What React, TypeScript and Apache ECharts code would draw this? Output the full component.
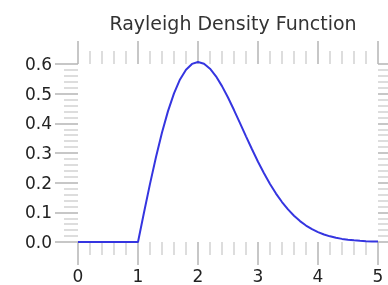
import React, { useEffect, useRef } from "react";
import * as echarts from "echarts";

const title = "Rayleigh Density Function";
const xs = [
  0, 0.5, 1, 1.1, 1.2, 1.3, 1.4, 1.5, 1.6, 1.7, 1.8, 1.9, 2, 2.1, 2.2, 2.3, 2.4, 2.5,
  2.6, 2.7, 2.8, 2.9, 3, 3.1, 3.2, 3.3, 3.4, 3.5, 3.6, 3.7, 3.8, 3.9, 4, 4.1, 4.2,
  4.3, 4.4, 4.5, 4.6, 4.7, 4.8, 4.9, 5,
];
const ys = [
  0, 0, 0, 0.0995, 0.196, 0.2868, 0.3692, 0.4412, 0.5012, 0.5479, 0.5809, 0.6003,
  0.6065, 0.6007, 0.5841, 0.5585, 0.5254, 0.487, 0.4448, 0.4007, 0.3562, 0.3125,
  0.2707, 0.2316, 0.1956, 0.1633, 0.1347, 0.1098, 0.0885, 0.0705, 0.0555, 0.0433,
  0.0333, 0.0254, 0.0191, 0.0143, 0.0105, 0.0077, 0.0055, 0.0039, 0.0028, 0.0019,
  0.0013,
];
const xTicks = [0, 1, 2, 3, 4, 5];
const yTicks = [0, 0.1, 0.2, 0.3, 0.4, 0.5, 0.6];

const FONT = "DejaVu Sans";
const MAJOR = "#b4b4b4";
const MINOR = "#d2d2d2";

export default function App() {
  const ref = useRef<HTMLDivElement>(null);
  useEffect(() => {
    if (!ref.current) return;
    const chart = echarts.init(ref.current, undefined, { renderer: "svg" });
    const data = xs.map((x, i) => [x, ys[i]]);
    const xBase = {
      type: "value" as const,
      min: xTicks[0],
      max: xTicks[xTicks.length - 1],
      interval: 1,
      axisLine: { show: false, onZero: false },
      splitLine: { show: false },
      axisTick: { show: true, inside: false, length: 23, lineStyle: { color: MAJOR, width: 1.5 } },
      minorTick: { show: true, splitNumber: 5, length: 13, lineStyle: { color: MINOR, width: 1.5 } },
    };
    const yBase = {
      type: "value" as const,
      min: yTicks[0],
      max: yTicks[yTicks.length - 1],
      interval: 0.1,
      axisLine: { show: false, onZero: false },
      splitLine: { show: false },
      axisTick: { show: true, inside: false, length: 23, lineStyle: { color: MAJOR, width: 1.5 } },
      minorTick: { show: true, splitNumber: 5, length: 14, lineStyle: { color: MINOR, width: 1.5 } },
    };
    chart.setOption({
      animation: false,
      title: {
        text: title,
        left: 228,
        top: 8,
        textAlign: "center",
        textStyle: { fontFamily: FONT, fontSize: 19, fontWeight: "normal", color: "#333" },
      },
      grid: { left: 78, right: 10, top: 64, bottom: 43, containLabel: false },
      xAxis: [
        {
          ...xBase,
          position: "bottom",
          axisLabel: { margin: 25, fontFamily: FONT, fontSize: 17, color: "#222" },
        },
        { ...xBase, position: "top", axisLabel: { show: false } },
      ],
      yAxis: [
        {
          ...yBase,
          position: "left",
          axisLabel: {
            margin: 26,
            fontFamily: FONT,
            fontSize: 17,
            color: "#222",
            formatter: (v: number) => v.toFixed(1),
          },
        },
        { ...yBase, position: "right", axisLabel: { show: false } },
      ],
      series: [
        {
          type: "line",
          data,
          xAxisIndex: 0,
          yAxisIndex: 0,
          showSymbol: false,
          symbol: "none",
          clip: false,
          lineStyle: { color: "#3535e0", width: 2 },
        },
      ],
    });
    return () => chart.dispose();
  }, []);
  return (
    <div
      ref={ref}
      style={{ position: "fixed", left: 0, top: 0, width: 388, height: 285 }}
    />
  );
}
